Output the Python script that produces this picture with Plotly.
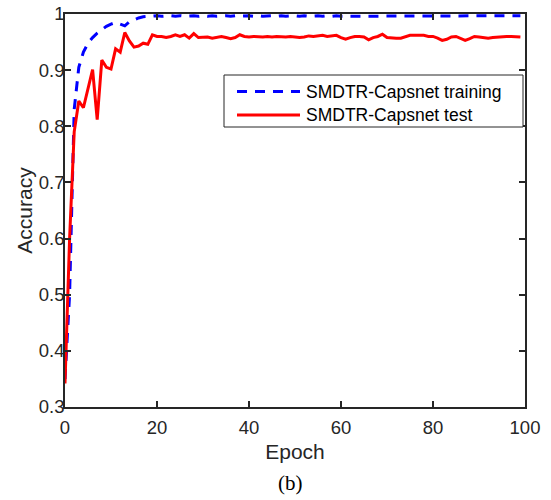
import plotly.graph_objects as go

epochs = list(range(100))

train_acc = [
    0.350, 0.500, 0.830, 0.905, 0.932, 0.948, 0.958, 0.966, 0.972, 0.978,
    0.982, 0.985, 0.982, 0.979, 0.986, 0.990, 0.993, 0.995, 0.996, 0.997,
    0.997, 0.996, 0.997, 0.997, 0.996, 0.997, 0.996, 0.997, 0.997, 0.996,
    0.997, 0.996, 0.997, 0.996, 0.997, 0.997, 0.996, 0.997, 0.996, 0.997,
    0.997, 0.996, 0.997, 0.996, 0.997, 0.997, 0.996, 0.997, 0.996, 0.997,
    0.997, 0.996, 0.997, 0.996, 0.997, 0.997, 0.996, 0.997, 0.996, 0.997,
    0.996, 0.996, 0.997, 0.996, 0.997, 0.997, 0.996, 0.997, 0.996, 0.997,
    0.997, 0.996, 0.997, 0.996, 0.997, 0.997, 0.996, 0.997, 0.996, 0.997,
    0.997, 0.996, 0.997, 0.996, 0.997, 0.997, 0.996, 0.997, 0.996, 0.997,
    0.997, 0.996, 0.997, 0.996, 0.997, 0.997, 0.996, 0.997, 0.996, 0.997,
]

test_acc = [
    0.342, 0.600, 0.790, 0.845, 0.833, 0.866, 0.901, 0.812, 0.918, 0.905,
    0.902, 0.938, 0.932, 0.967, 0.952, 0.941, 0.943, 0.948, 0.946, 0.963,
    0.960, 0.960, 0.958, 0.960, 0.963, 0.960, 0.963, 0.957, 0.965, 0.958,
    0.959, 0.959, 0.957, 0.959, 0.960, 0.958, 0.956, 0.958, 0.963, 0.960,
    0.959, 0.960, 0.959, 0.959, 0.960, 0.959, 0.960, 0.959, 0.959, 0.960,
    0.959, 0.958, 0.959, 0.961, 0.960, 0.961, 0.962, 0.960, 0.961, 0.962,
    0.958, 0.955, 0.958, 0.960, 0.960, 0.959, 0.954, 0.958, 0.960, 0.964,
    0.958, 0.957, 0.957, 0.957, 0.960, 0.962, 0.962, 0.962, 0.962, 0.960,
    0.960, 0.957, 0.953, 0.955, 0.959, 0.960, 0.957, 0.953, 0.956, 0.960,
    0.959, 0.958, 0.957, 0.958, 0.959, 0.959, 0.960, 0.960, 0.959, 0.959,
]

x_ticks = [0, 20, 40, 60, 80, 100]
y_ticks = [0.3, 0.4, 0.5, 0.6, 0.7, 0.8, 0.9, 1.0]
y_tick_labels = ["0.3", "0.4", "0.5", "0.6", "0.7", "0.8", "0.9", "1"]

series_names = ["SMDTR-Capsnet training", "SMDTR-Capsnet test"]

W, H = 551, 500
ML, MR, MT, MB = 65, 26, 14, 93
PW, PH = W - ML - MR, H - MT - MB

def px_to_paper(px, py):
    return (px - ML) / PW, (H - MB - py) / PH

AX = "#262626"
BLUE = "#0000FF"
RED = "#FF0000"
FONT = "Liberation Sans, Arial"

fig = go.Figure()
fig.add_trace(go.Scatter(x=epochs, y=train_acc, mode="lines", name=series_names[0],
                         line=dict(color=BLUE, width=3, dash="10px,8px"), showlegend=False))
fig.add_trace(go.Scatter(x=epochs, y=test_acc, mode="lines", name=series_names[1],
                         line=dict(color=RED, width=3), showlegend=False))

# custom legend box
x0, y0 = px_to_paper(224, 127)
x1, y1 = px_to_paper(523, 75)
shapes = [dict(type="rect", xref="paper", yref="paper", x0=x0, y0=y0, x1=x1, y1=y1,
               line=dict(color=AX, width=1), fillcolor="white", layer="above")]
annotations = []
rows = [(91.5, BLUE, "10px,8px", series_names[0]), (115, RED, "solid", series_names[1])]
for py, col, dash, name in rows:
    sx0, sy = px_to_paper(237, py)
    sx1, _ = px_to_paper(300, py)
    shapes.append(dict(type="line", xref="paper", yref="paper", x0=sx0, x1=sx1, y0=sy, y1=sy,
                       line=dict(color=col, width=3, dash=dash), layer="above"))
    tx, _ = px_to_paper(304, py)
    annotations.append(dict(text=name, xref="paper", yref="paper", x=tx, y=sy,
                            xanchor="left", yanchor="middle", showarrow=False,
                            font=dict(family=FONT, size=17.5, color="#000000")))

# caption
cx, cy = px_to_paper(290, 483)
annotations.append(dict(text="(b)", xref="paper", yref="paper", x=cx, y=cy,
                        xanchor="center", yanchor="middle", showarrow=False,
                        font=dict(family="Liberation Serif, Times New Roman", size=21, color="#000000")))

axis_common = dict(showline=True, linecolor=AX, linewidth=1.5, mirror="ticks",
                   ticks="inside", ticklen=6, tickwidth=1.5, tickcolor=AX,
                   showgrid=False, zeroline=False, automargin=False,
                   tickfont=dict(family=FONT, size=18.5, color=AX))

fig.update_layout(
    width=W, height=H,
    margin=dict(l=ML, r=MR, t=MT, b=MB),
    paper_bgcolor="white", plot_bgcolor="white",
    shapes=shapes, annotations=annotations,
    xaxis=dict(range=[0, 100], tickvals=x_ticks, ticklabelstandoff=3, **axis_common,
               title=dict(text="Epoch", standoff=7,
                          font=dict(family=FONT, size=21, color=AX))),
    yaxis=dict(range=[0.3, 1.0], tickvals=y_ticks, ticktext=y_tick_labels,
               ticklabelstandoff=-5, **axis_common,
               title=dict(text="Accuracy", standoff=0,
                          font=dict(family=FONT, size=21, color=AX))),
)

fig.write_html("out.html")
